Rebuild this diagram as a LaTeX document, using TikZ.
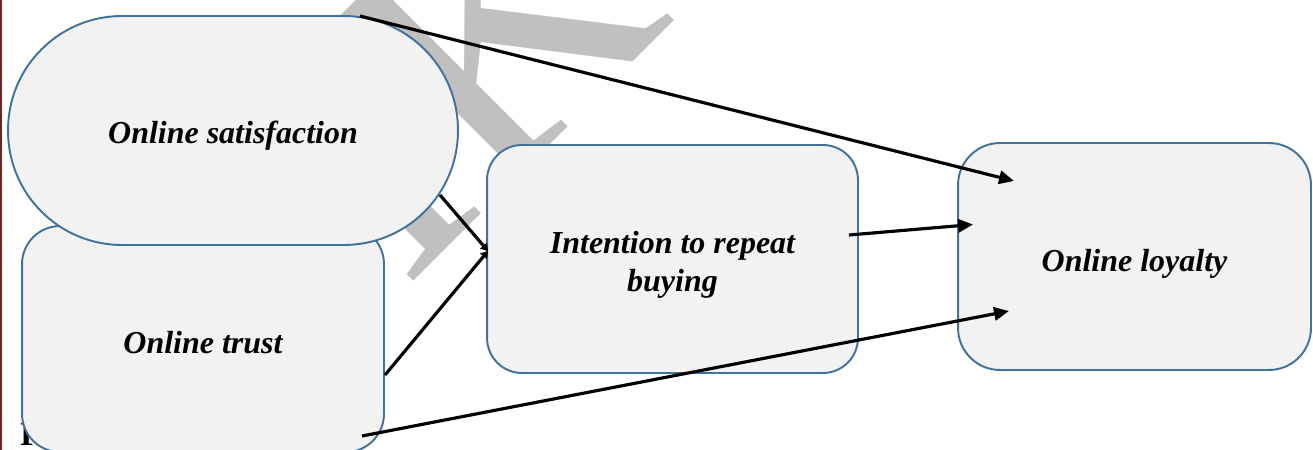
\documentclass[tikz,border=0pt]{standalone}
\usepackage{fontspec}
\setmainfont{Liberation Serif}
\usetikzlibrary{arrows.meta}
\definecolor{boxline}{HTML}{41719C}
\definecolor{boxfill}{HTML}{F2F2F2}
\definecolor{wmgray}{HTML}{C0C0C0}
\definecolor{edgered}{HTML}{6B2525}
\newcommand{\boxtext}[2]{\raisebox{#1}[\height][\depth]{\begin{tabular}{@{}c@{}}#2\end{tabular}}}
\tikzset{
  box/.style={draw=boxline, line width=1.1pt, fill=boxfill, align=center, inner sep=0pt,
    font=\bfseries\itshape\fontsize{18.2}{21.8}\selectfont},
  arr/.style={line width=1.8pt, -{Triangle[length=8.5pt,width=7.5pt]}},
  arrsmall/.style={line width=1.8pt, -{Triangle[length=4pt,width=5pt]}},
  wm/.style={text=wmgray, inner sep=0pt, font=\fontsize{208}{208}\selectfont}
}
\begin{document}
\begin{tikzpicture}[x=0.02cm,y=-0.02cm]
\useasboundingbox (0,0) rectangle (1313,450);
% watermark
\node[wm, rotate=45, anchor=base west] (wmk) at (404,291) {IK};
% caption fragment
\node[anchor=base west, inner sep=0pt, font=\bfseries\fontsize{19}{19}\selectfont] (fig) at (20,445) {F};
% boxes
\node[box, minimum width=7.24cm, minimum height=4.52cm, rounded corners=0.76cm] (trust) at (203,339) {\boxtext{-0.14cm}{Online trust}};
\node[box, minimum width=9cm, minimum height=4.58cm, rounded corners=2.28cm] (sat) at (233,130.5) {\boxtext{-0.1cm}{Online satisfaction}};
\node[box, minimum width=7.42cm, minimum height=4.56cm, rounded corners=0.7cm] (int) at (672.5,259) {\boxtext{-0.12cm}{Intention to repeat\\buying}};
\node[box, minimum width=7.06cm, minimum height=4.54cm, rounded corners=0.84cm] (loy) at (1134.5,256.5) {\boxtext{-0.14cm}{Online loyalty}};
% connector end points
\coordinate (s1) at (360,16);
\coordinate (l1) at (1014,181);
\coordinate (i1) at (849,235);
\coordinate (l2) at (973,224.5);
\coordinate (tr1) at (362,436);
\coordinate (l3) at (1009,311);
\coordinate (s2) at (440,195);
\coordinate (i2) at (488,251);
\coordinate (tr2) at (385,375);
% connectors
\draw[arr] (s1) -- (l1);
\draw[arr] (i1) -- (l2);
\draw[arr] (tr1) -- (l3);
\draw[arrsmall] (s2) -- (i2);
\draw[arrsmall] (tr2) -- (i2);
% left edge line
\fill[edgered] (0,0) rectangle (2.4,450);
\end{tikzpicture}
\end{document}
